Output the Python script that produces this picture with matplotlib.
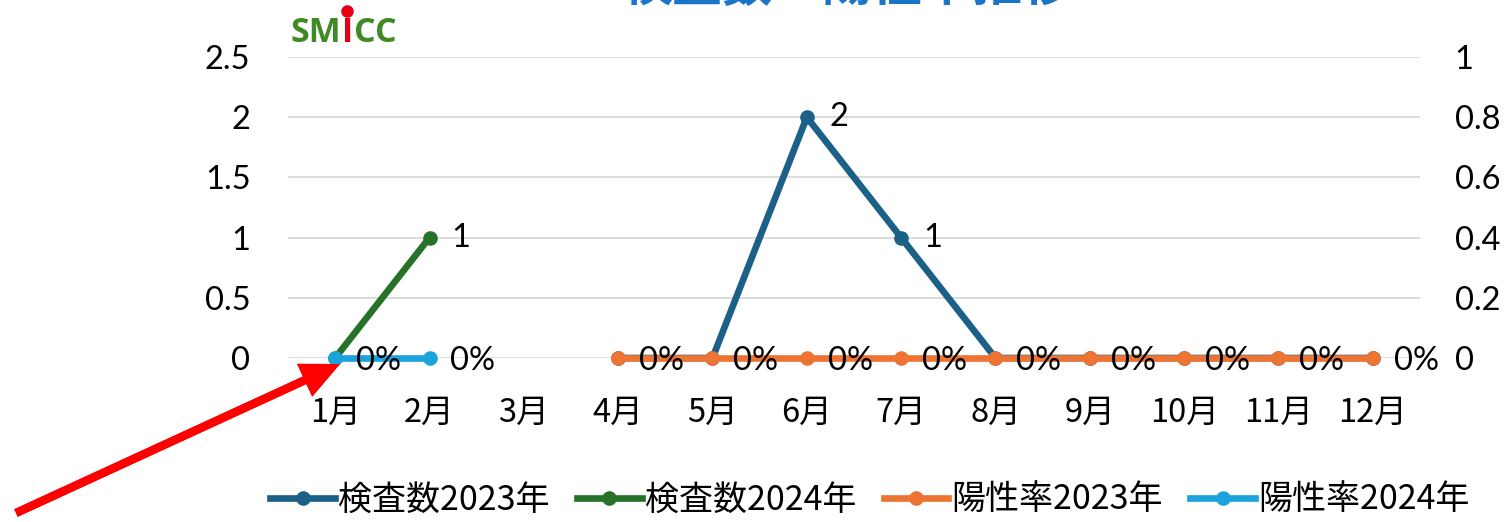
import numpy as np
import matplotlib.pyplot as plt
from matplotlib.lines import Line2D

plt.rcParams['font.family'] = ['Noto Sans CJK JP', 'DejaVu Sans']

months = ["1月", "2月", "3月", "4月", "5月", "6月", "7月", "8月", "9月", "10月", "11月", "12月"]
nan = np.nan
count_2023 = [nan, nan, nan, 0, 0, 2, 1, 0, 0, 0, 0, 0]
count_2024 = [0, 1, nan, nan, nan, nan, nan, nan, nan, nan, nan, nan]
rate_2023 = [nan, nan, nan, 0, 0, 0, 0, 0, 0, 0, 0, 0]
rate_2024 = [0, 0, nan, nan, nan, nan, nan, nan, nan, nan, nan, nan]

c_2023 = "#1b6187"
c_2024 = "#277229"
r_2023 = "#ed7432"
r_2024 = "#1ba3db"

W, H = 1504, 522
fig = plt.figure(figsize=(W / 100, H / 100), dpi=100)
ax = fig.add_axes([288 / W, (H - 358) / H, (1420 - 288) / W, (358 - 57) / H])
ax2 = ax.twinx()

x = np.arange(1, 13)
lw, ms = 4.8, 9.5
ax.plot(x, count_2023, color=c_2023, lw=lw, marker="o", ms=ms, clip_on=False, zorder=3)
ax.plot(x, count_2024, color=c_2024, lw=lw, marker="o", ms=ms, clip_on=False, zorder=3)
ax2.plot(x, rate_2023, color=r_2023, lw=lw, marker="o", ms=ms, clip_on=False, zorder=3)
ax2.plot(x, rate_2024, color=r_2024, lw=lw, marker="o", ms=ms, clip_on=False, zorder=3)

fs = 23.5
num_font = "Lato"
# value labels: counts only where non-zero, rates everywhere
for series in (count_2023, count_2024):
    for xi, v in zip(x, series):
        if not np.isnan(v) and v != 0:
            ax.annotate(f"{v:g}", (xi, v), xytext=(16, 0), textcoords="offset points",
                        fontsize=fs, va="center", ha="left", family=num_font)
for series in (rate_2023, rate_2024):
    for xi, v in zip(x, series):
        if not np.isnan(v):
            ax2.annotate(f"{v:.0%}", (xi, v), xytext=(15, -2), textcoords="offset points",
                         fontsize=fs, va="center", ha="left", family=num_font, zorder=5)

ax.set_xlim(0.5, 12.5)
ax.set_ylim(0, 2.5)
ax2.set_ylim(0, 1)
ax.set_yticks(np.arange(0, 2.51, 0.5))
ax.set_yticklabels(["0", "0.5", "1", "1.5", "2", "2.5"])
ax2.set_yticks(np.arange(0, 1.01, 0.2))
ax2.set_yticklabels(["0", "0.2", "0.4", "0.6", "0.8", "1"])
ax.set_xticks(x)
ax.set_xticklabels(months)
ax.grid(axis="y", color="#d9d9d9", lw=1.3)
ax.set_axisbelow(True)
for a in (ax, ax2):
    for s in a.spines.values():
        s.set_visible(False)
ax.tick_params(axis="y", length=0, pad=27, labelsize=fs)
ax2.tick_params(axis="y", length=0, pad=25, labelsize=fs)
ax.tick_params(axis="x", length=0, pad=28, labelsize=fs)
for t in ax.get_yticklabels() + ax2.get_yticklabels():
    t.set_family(num_font)

# title, partly above the top edge
fig.text(848 / W, 1 - (-13) / H, "検査数・陽性率推移", color="#1a75c8", fontsize=36,
         fontweight="bold", ha="center", va="center")

# logo: SM / I / CC laid out one after another
renderer = fig.canvas.get_renderer()
lx = 290
i_mid = lx
for part, col in (("SM", "#3f8a25"), ("I", "#e60012"), ("CC", "#3f8a25")):
    t = fig.text(lx / W, 1 - 33 / H, part, color=col, fontsize=24.5, fontweight="bold",
                 ha="left", va="center", family="Open Sans")
    bb = t.get_window_extent(renderer)
    if part == "I":
        i_mid = lx + bb.width / 2
    lx += bb.width + 1
fig.add_artist(Line2D([i_mid / W], [1 - 11 / H], marker="o", ms=8, color="#e60012",
                      transform=fig.transFigure))

# arrow pointing at January
fig.add_artist(plt.annotate("", xy=(340 / W, 1 - 364 / H), xytext=(16 / W, 1 - 513 / H),
                            xycoords="figure fraction", textcoords="figure fraction",
                            arrowprops=dict(color="#ff0000", width=6, headwidth=26,
                                            headlength=28, lw=0)))

handles = [Line2D([], [], color=c, lw=lw, marker="o", ms=ms) for c in (c_2023, c_2024, r_2023, r_2024)]
labels = ["検査数2023年", "検査数2024年", "陽性率2023年", "陽性率2024年"]
fig.legend(handles, labels, loc="center", bbox_to_anchor=(870 / W, 1 - 500 / H), ncol=4,
           frameon=False, fontsize=24.5, handlelength=1.9, handletextpad=0.1, columnspacing=0.8)

fig.savefig("out.png", dpi=100)
